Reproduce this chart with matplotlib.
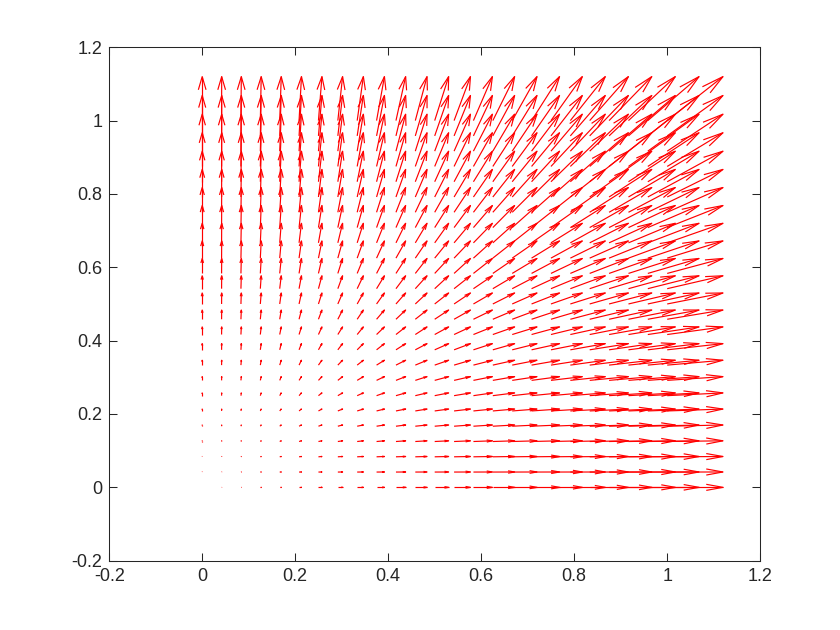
import numpy as np
import matplotlib.pyplot as plt
from matplotlib.collections import LineCollection

# grid of arrow tails (25 x 25)
x_grid = [0.0, 0.0417, 0.0833, 0.125, 0.1667, 0.2083, 0.25, 0.2917, 0.3333,
          0.375, 0.4167, 0.4583, 0.5, 0.5417, 0.5833, 0.625, 0.6667, 0.7083,
          0.75, 0.7917, 0.8333, 0.875, 0.9167, 0.9583, 1.0]
y_grid = [0.0, 0.0417, 0.0833, 0.125, 0.1667, 0.2083, 0.25, 0.2917, 0.3333,
          0.375, 0.4167, 0.4583, 0.5, 0.5417, 0.5833, 0.625, 0.6667, 0.7083,
          0.75, 0.7917, 0.8333, 0.875, 0.9167, 0.9583, 1.0]

# arrow x-extent per column and y-extent per row (as drawn, data units)
u_col = [0.0, 0.0002, 0.0008, 0.0019, 0.0033, 0.0052, 0.0075, 0.0102, 0.0133,
         0.0169, 0.0208, 0.0252, 0.03, 0.0352, 0.0408, 0.0469, 0.0533, 0.0602,
         0.0675, 0.0752, 0.0833, 0.0919, 0.1008, 0.1102, 0.12]
v_row = [0.0, 0.0002, 0.0008, 0.0019, 0.0033, 0.0052, 0.0075, 0.0102, 0.0133,
         0.0169, 0.0208, 0.0252, 0.03, 0.0352, 0.0408, 0.0469, 0.0533, 0.0602,
         0.0675, 0.0752, 0.0833, 0.0919, 0.1008, 0.1102, 0.12]

ticks = [-0.2, 0, 0.2, 0.4, 0.6, 0.8, 1, 1.2]
tick_labels = ['-0.2', '0', '0.2', '0.4', '0.6', '0.8', '1', '1.2']

plt.rcParams['font.family'] = ['Liberation Sans', 'DejaVu Sans']

X, Y = np.meshgrid(x_grid, y_grid)
U, V = np.meshgrid(u_col, v_row)
X, Y, U, V = X.ravel(), Y.ravel(), U.ravel(), V.ravel()

# matlab-style open arrow heads
alpha, beta = 0.3, 0.23
tx, ty = X + U, Y + V
segs = []
for i in range(len(X)):
    segs.append([(X[i], Y[i]), (tx[i], ty[i])])
    h1 = (tx[i] - alpha * (U[i] + beta * V[i]), ty[i] - alpha * (V[i] - beta * U[i]))
    h2 = (tx[i] - alpha * (U[i] - beta * V[i]), ty[i] - alpha * (V[i] + beta * U[i]))
    segs.append([h1, (tx[i], ty[i]), h2])

fig = plt.figure(figsize=(8.4, 6.3), dpi=100)
ax = fig.add_axes([0.13, 0.11, 0.775, 0.815])
ax.add_collection(LineCollection(segs, colors='#ff0000', linewidths=0.85))

ax.set_xlim(-0.2, 1.2)
ax.set_ylim(-0.2, 1.2)
ax.set_xticks(ticks)
ax.set_xticklabels(tick_labels)
ax.set_yticks(ticks)
ax.set_yticklabels(tick_labels)
ax.tick_params(direction='in', length=6, width=0.75, colors='#262626',
               labelsize=13, top=True, right=True, pad=5)
for s in ax.spines.values():
    s.set_color('#262626')
    s.set_linewidth(0.75)

fig.savefig('out.png', dpi=100)
